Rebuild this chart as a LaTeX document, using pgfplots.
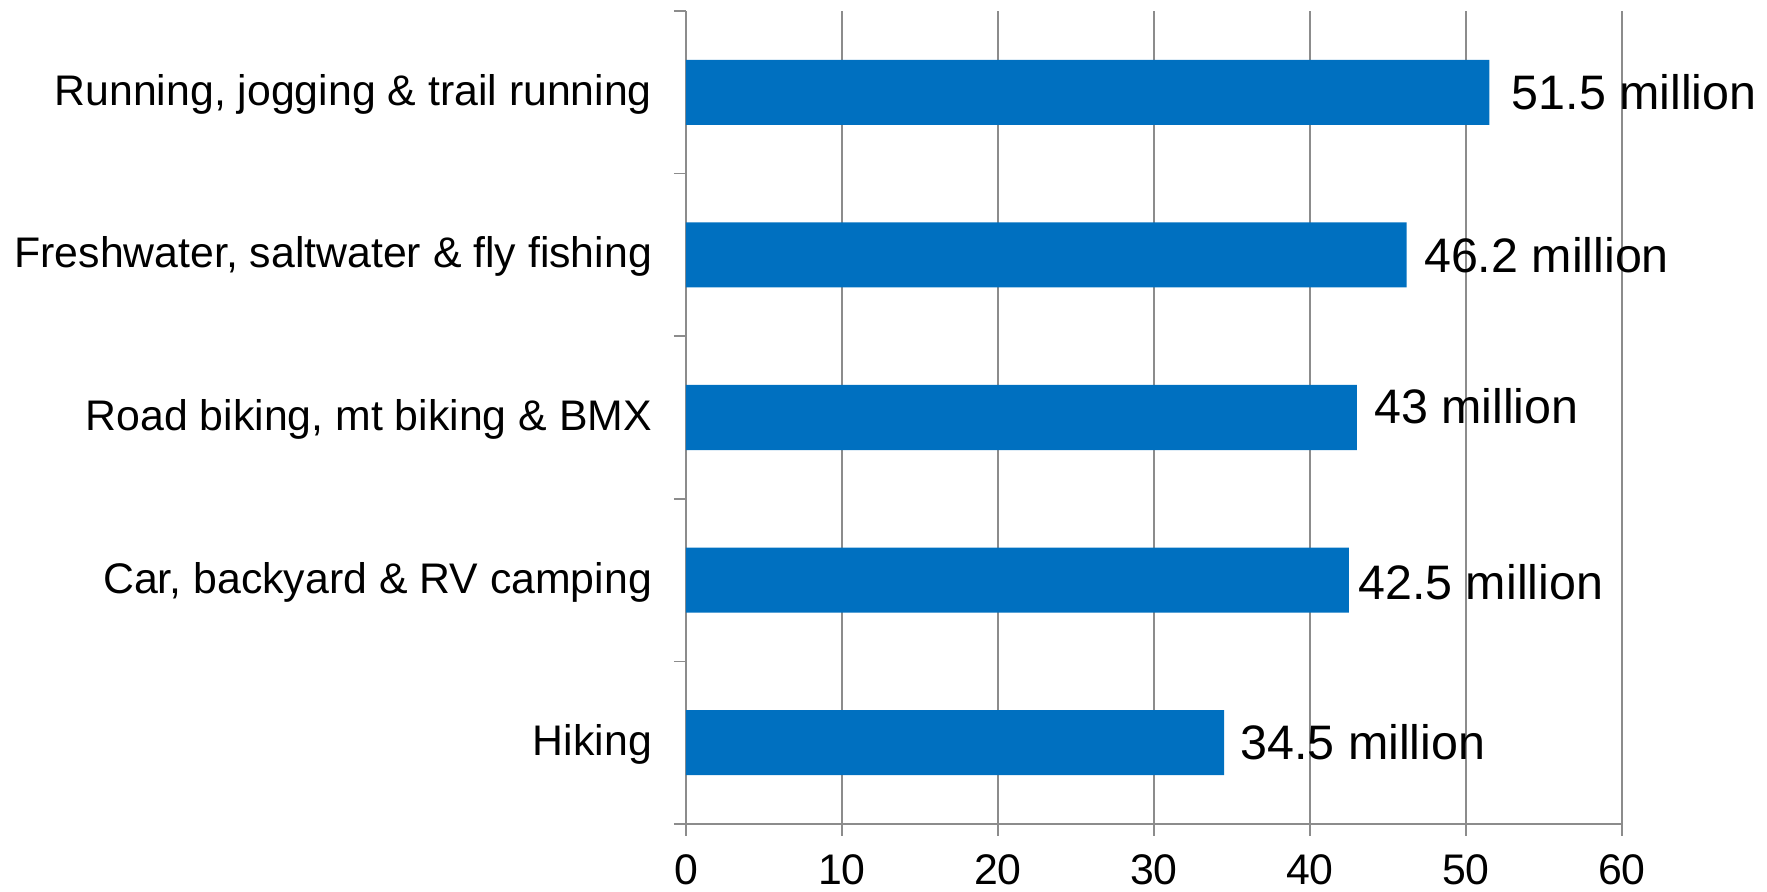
\documentclass[border=0pt]{standalone}
\usepackage{pgfplots}
\pgfplotsset{compat=1.18}
\usepackage{pgfplotstable}
\usepackage{fontspec}
\setmainfont{Liberation Sans}
\definecolor{barblue}{HTML}{0070C0}
\definecolor{gridgray}{HTML}{8C8C8C}

\pgfplotstableread{
y x lbl dx dy
0 34.5 34.5 8 0
1 42.5 42.5 4.5 -1.2
2 43 43 8.5 5.5
3 46.2 46.2 8.5 0
4 51.5 51.5 11 0
}\data

\begin{document}
\begin{tikzpicture}
\useasboundingbox (-343pt,-34pt) rectangle (540.5pt,412pt);
\begin{axis}[
  at={(0,0)}, anchor=south west,
  scale only axis,
  width=468pt, height=406.5pt,
  xmin=0, xmax=60, ymin=-0.5, ymax=4.5,
  clip=false,
  xtick={0,10,...,60},
  ytick={-0.5,0.5,1.5,2.5,3.5,4.5},
  yticklabels={},
  extra y ticks={0,1,2,3,4},
  extra y tick labels={Hiking, {Car, backyard \& RV camping}, {Road biking, mt biking \& BMX}, {Freshwater, saltwater \& fly fishing}, {Running, jogging \& trail running}},
  extra y tick style={major tick length=0pt, tick style={draw=none}},
  axis x line*=bottom, axis y line*=left,
  axis line style={gridgray, line width=0.75pt, -},
  xmajorgrids,
  major grid style={gridgray, line width=0.75pt},
  tick align=outside,
  major tick length=6pt,
  tick style={gridgray, line width=0.75pt},
  /pgf/number format/assume math mode=true,
  xticklabel style={font=\fontsize{21.4}{25}\selectfont, text=black, yshift=-6pt},
  yticklabel style={font=\fontsize{21.4}{25}\selectfont, text=black, anchor=east, xshift=-13.5pt, yshift=-1pt},
]
\addplot[xbar, bar width=0.4, fill=barblue, draw=none,
  point meta=explicit symbolic,
  nodes near coords={\pgfplotspointmeta\ million},
  visualization depends on={\thisrow{dx} \as \dx},
  visualization depends on={\thisrow{dy} \as \dy},
  nodes near coords style={anchor=west, inner sep=0pt, xshift=\dx pt, yshift=\dy pt, font=\fontsize{24.2}{28}\selectfont, text=black},
] table[x=x, y=y, meta=lbl] {\data};
\end{axis}
\end{tikzpicture}
\end{document}
